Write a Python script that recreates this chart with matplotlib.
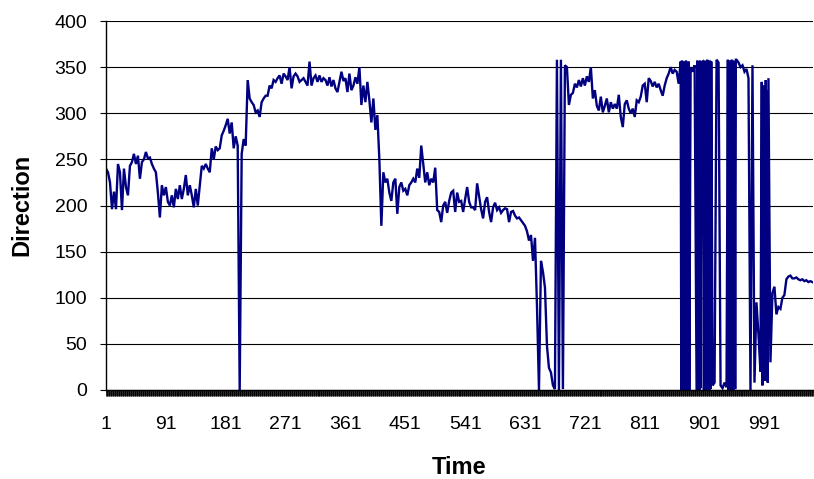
import numpy as np
import matplotlib
matplotlib.use("Agg")
import matplotlib.pyplot as plt
from matplotlib.ticker import MultipleLocator, FixedLocator

plt.rcParams["font.family"] = ["Liberation Sans", "DejaVu Sans"]

# wind direction, one reading every 3 time steps starting at step 1
step = 3
direction = [
    240, 236, 225, 196, 215, 196, 245, 236, 195, 240,
    220, 211, 243, 247, 256, 245, 254, 229, 247, 250,
    258, 251, 252, 245, 240, 236, 214, 187, 222, 211,
    220, 204, 200, 211, 198, 218, 207, 222, 207, 218,
    233, 211, 222, 211, 198, 218, 200, 222, 243, 240,
    245, 240, 236, 262, 250, 264, 260, 262, 276, 281,
    287, 294, 278, 290, 262, 275, 265, 0, 256, 272,
    265, 336, 316, 312, 309, 301, 303, 296, 312, 316,
    319, 319, 330, 327, 336, 334, 338, 341, 332, 343,
    340, 336, 350, 327, 340, 343, 340, 334, 336, 338,
    334, 330, 356, 330, 338, 341, 334, 341, 334, 338,
    336, 330, 339, 329, 336, 327, 323, 334, 345, 335,
    338, 323, 343, 325, 330, 339, 332, 350, 309, 330,
    312, 334, 314, 290, 316, 282, 298, 250, 178, 236,
    225, 229, 214, 205, 225, 229, 191, 220, 225, 216,
    218, 211, 222, 225, 229, 225, 240, 230, 265, 245,
    225, 236, 222, 229, 225, 241, 195, 193, 182, 200,
    204, 192, 205, 214, 216, 193, 214, 204, 205, 193,
    207, 220, 204, 198, 198, 195, 224, 210, 196, 186,
    204, 209, 193, 182, 198, 203, 195, 198, 192, 195,
    197, 196, 182, 193, 194, 189, 186, 187, 184, 181,
    178, 172, 162, 168, 140, 165, 91, 0, 140, 128,
    111, 48, 24, 19, 5, 1, 358, 0, 358, 1,
    352, 350, 309, 320, 322, 332, 328, 336, 329, 338,
    330, 340, 334, 350, 316, 325, 308, 303, 318, 301,
    308, 316, 301, 312, 305, 310, 305, 320, 296, 285,
    310, 314, 305, 300, 305, 296, 314, 312, 318, 330,
    332, 312, 338, 335, 329, 334, 328, 332, 325, 319,
    330, 338, 343, 350, 343, 347, 345, 332, 356, 0,
    357, 0, 355, 350, 345, 352, 0, 357, 1, 356,
    0, 357, 0, 356, 5, 8, 358, 355, 5, 2,
    8, 3, 358, 0, 357, 1, 358, 355, 350, 352,
    345, 348, 338, 0, 352, 8, 95, 60, 20, 334,
    8, 322, 338, 30, 105, 112, 82, 90, 88, 100,
    103, 120, 123, 124, 121, 121, 122, 120, 119, 120,
    118, 119, 117, 118, 117,
]

# stretches where the vane flips across north on every step
burst_start = [866, 889, 900, 936, 987]
burst_direction = [
    [0, 357, 2, 356, 0, 355, 1, 357, 0, 354, 2, 356, 0],
    [0, 357, 1, 356, 0, 357, 2, 355],
    [0, 357, 1, 356, 0, 358, 2, 356, 0, 357, 1, 356],
    [358, 0, 357, 1, 356, 0, 358, 2, 357, 0, 356, 1, 358],
    [334, 5, 330, 40, 322, 10, 336, 20, 325, 8, 338],
]

n_steps = 1064
x_labels = [1, 91, 181, 271, 361, 451, 541, 631, 721, 811, 901, 991]
y_ticks = [0, 50, 100, 150, 200, 250, 300, 350, 400]

t_main = np.arange(1, step * len(direction), step)
v_main = np.array(direction, dtype=float)
keep = np.ones(len(t_main), dtype=bool)
t_parts, v_parts = [], []
for start, vals in zip(burst_start, burst_direction):
    keep &= ~((t_main >= start) & (t_main < start + len(vals)))
    t_parts.append(np.arange(start, start + len(vals)))
    v_parts.append(np.array(vals, dtype=float))
t_all = np.concatenate([t_main[keep]] + t_parts)
v_all = np.concatenate([v_main[keep]] + v_parts)
order = np.argsort(t_all)
t_all, v_all = t_all[order], v_all[order]

fig = plt.figure(figsize=(8.14, 4.79), dpi=100)
ax = fig.add_axes([106 / 814, 1 - 390 / 479, (813 - 106) / 814, (390 - 21) / 479])

ax.plot(t_all, v_all, color="#000080", lw=1.7, solid_joinstyle="miter")

ax.set_xlim(1, n_steps)
ax.set_ylim(0, 400)
ax.set_yticks(y_ticks)
ax.yaxis.grid(True, color="black", lw=0.8)
ax.set_axisbelow(True)

# a tick for every time step, labels every 90
ax.xaxis.set_major_locator(FixedLocator(x_labels))
ax.xaxis.set_minor_locator(MultipleLocator(1))
ax.set_xticklabels([str(v) for v in x_labels])

for side in ("top", "right"):
    ax.spines[side].set_visible(False)
ax.spines["left"].set_linewidth(1.0)
ax.spines["bottom"].set_linewidth(1.0)

ax.tick_params(axis="y", direction="out", length=4.5, width=0.8,
               labelsize=14, pad=9)
ax.tick_params(axis="x", which="both", direction="out", length=4.5,
               width=0.6, labelsize=14, pad=14.5)

fig.text(22 / 814, 1 - 205 / 479, "Direction", rotation=90, ha="center",
         va="center", fontsize=17, fontweight="bold")
fig.text(459 / 814, 1 - 467 / 479, "Time", ha="center", va="center",
         fontsize=17, fontweight="bold")

fig.savefig("out.png", dpi=100)
